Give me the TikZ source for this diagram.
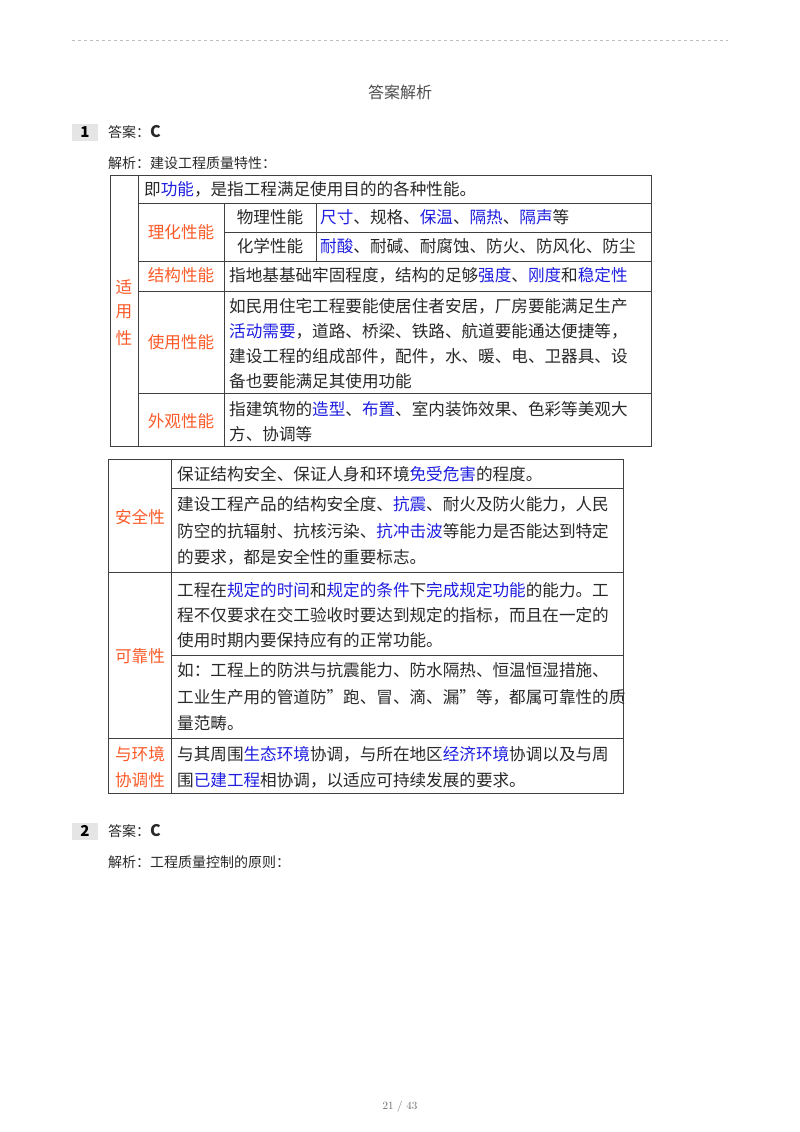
\documentclass[tikz,border=0pt]{standalone}
\usepackage{fontspec}
\setmainfont{Noto Sans CJK SC}
\newfontfamily\serifnum{Latin Modern Roman}
\definecolor{blu}{RGB}{30,30,225}
\definecolor{org}{RGB}{250,90,40}
\definecolor{txt}{RGB}{40,40,40}
\newcommand{\Bl}[1]{\textcolor{blu}{#1}}
\tikzset{
 t/.style={anchor=west,inner sep=0pt,text=txt,font=\fontsize{16.6}{20}\selectfont},
 lab/.style={anchor=center,inner sep=0pt,text=org,font=\fontsize{16.6}{20}\selectfont},
 hd/.style={anchor=west,inner sep=0pt,text=txt,font=\fontsize{14}{18}\selectfont},
 grid/.style={draw=black!75,line width=0.9pt}
}
\begin{document}
\begin{tikzpicture}[x=1pt,y=-1pt]
\useasboundingbox (0,0) rectangle (800,1132);
\draw[black!25,dashed,line width=0.5pt] (72,40) -- (728,40);
\node[anchor=center,inner sep=0pt,text=black!70,font=\fontsize{16}{20}\selectfont] (title) at (400,92) {答案解析};
\fill[black!10] (72,124) rectangle (98,141);
\node[anchor=center,inner sep=0pt,font=\fontsize{15}{18}\selectfont\bfseries] (n1) at (85,132) {1};
\node[hd] (a1) at (108,132) {答案：\textbf{\fontsize{16}{18}\selectfont C}};
\node[hd] (j1) at (108,163) {解析：建设工程质量特性：};
% table 1
\draw[grid] (110,175) rectangle (651,446);
\draw[grid] (138,175) -- (138,446);
\draw[grid] (138,203) -- (651,203);
\draw[grid] (224,203) -- (224,446);
\draw[grid] (316,203) -- (316,261);
\draw[grid] (224,232) -- (651,232);
\draw[grid] (138,261) -- (651,261);
\draw[grid] (138,291) -- (651,291);
\draw[grid] (138,393) -- (651,393);
\node[lab] (s1) at (124,287) {适};
\node[lab] (s2) at (124,312) {用};
\node[lab] (s3) at (124,338) {性};
\node[t] (r1) at (144,189) {即\Bl{功能}，是指工程满足使用目的的各种性能。};
\node[lab] (lh) at (181,232) {理化性能};
\node[t,anchor=center] (wl) at (270,217) {物理性能};
\node[t,anchor=center] (hx) at (270,246) {化学性能};
\node[t] (wlt) at (320,217) {\Bl{尺寸}、规格、\Bl{保温}、\Bl{隔热}、\Bl{隔声}等};
\node[t] (hxt) at (320,246) {\Bl{耐酸}、耐碱、耐腐蚀、防火、防风化、防尘};
\node[lab] (jg) at (181,275) {结构性能};
\node[t] (jgt) at (229,275) {指地基基础牢固程度，结构的足够\Bl{强度}、\Bl{刚度}和\Bl{稳定性}};
\node[lab] (sy) at (181,342) {使用性能};
\node[t] (sy1) at (229,306) {如民用住宅工程要能使居住者安居，厂房要能满足生产};
\node[t] (sy2) at (229,331) {\Bl{活动需要}，道路、桥梁、铁路、航道要能通达便捷等，};
\node[t] (sy3) at (229,356) {建设工程的组成部件，配件，水、暖、电、卫器具、设};
\node[t] (sy4) at (229,381) {备也要能满足其使用功能};
\node[lab] (wg) at (181,421) {外观性能};
\node[t] (wg1) at (229,409) {指建筑物的\Bl{造型}、\Bl{布置}、室内装饰效果、色彩等美观大};
\node[t] (wg2) at (229,434) {方、协调等};
% table 2
\draw[grid] (108,459) rectangle (623,793);
\draw[grid] (171,459) -- (171,793);
\draw[grid] (171,488) -- (623,488);
\draw[grid] (108,572) -- (623,572);
\draw[grid] (171,655) -- (623,655);
\draw[grid] (108,738) -- (623,738);
\node[lab] (aq) at (140,517) {安全性};
\node[t] (aq1) at (177,474) {保证结构安全、保证人身和环境\Bl{免受危害}的程度。};
\node[t] (aq2) at (177,504) {建设工程产品的结构安全度、\Bl{抗震}、耐火及防火能力，人民};
\node[t] (aq3) at (177,531) {防空的抗辐射、抗核污染、\Bl{抗冲击波}等能力是否能达到特定};
\node[t] (aq4) at (177,557) {的要求，都是安全性的重要标志。};
\node[lab] (kk) at (140,656) {可靠性};
\node[t] (kk1) at (177,590) {工程在\Bl{规定的时间}和\Bl{规定的条件}下\Bl{完成规定功能}的能力。工};
\node[t] (kk2) at (177,615) {程不仅要求在交工验收时要达到规定的指标，而且在一定的};
\node[t] (kk3) at (177,640) {使用时期内要保持应有的正常功能。};
\node[t] (kk4) at (177,670) {如：工程上的防洪与抗震能力、防水隔热、恒温恒湿措施、};
\node[t] (kk5) at (177,697) {工业生产用的管道防"跑、冒、滴、漏"等，都属可靠性的质};
\node[t] (kk6) at (177,723) {量范畴。};
\node[lab] (hj1) at (140,754) {与环境};
\node[lab] (hj2) at (140,780) {协调性};
\node[t] (hjt1) at (177,754) {与其周围\Bl{生态环境}协调，与所在地区\Bl{经济环境}协调以及与周};
\node[t] (hjt2) at (177,780) {围\Bl{已建工程}相协调，以适应可持续发展的要求。};
% question 2
\fill[black!10] (72,823) rectangle (98,840);
\node[anchor=center,inner sep=0pt,font=\fontsize{15}{18}\selectfont\bfseries] (n2) at (85,831) {2};
\node[hd] (a2) at (108,831) {答案：\textbf{\fontsize{16}{18}\selectfont C}};
\node[hd] (j2) at (108,862) {解析：工程质量控制的原则：};
\node[anchor=center,inner sep=0pt,text=black!60,font=\serifnum\fontsize{11}{14}\selectfont] (pg) at (400,1107) {21 / 43};
\end{tikzpicture}
\end{document}
